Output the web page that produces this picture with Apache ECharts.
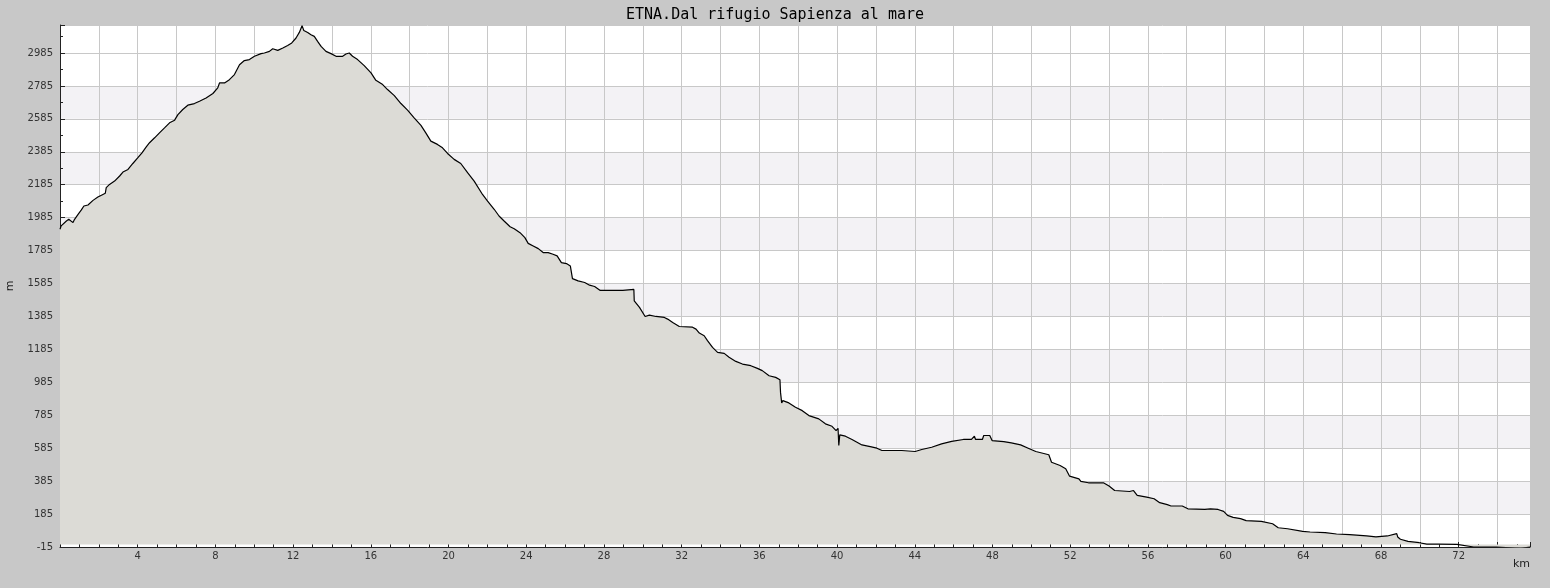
<!DOCTYPE html>
<html>
<head>
<meta charset="utf-8">
<script src="https://cdn.jsdelivr.net/npm/echarts@6/dist/echarts.min.js"></script>
<style>
html,body{margin:0;padding:0;background:#c8c8c8;}
#chart{width:1550px;height:588px;}
</style>
</head>
<body>
<div id="chart"></div>
<script>
const titleText = 'ETNA.Dal rifugio Sapienza al mare';
const xName = 'km';
const yName = 'm';
const yMin = -15, yMax = 3155, yStep = 200;
const xMin = 0, xMax = 75.67, xStep = 2;

const distKm = [0,0.03,0.06,0.33,0.45,0.55,0.67,0.75,0.93,1.10,1.23,1.44,1.70,1.95,2.21,2.33,2.38,2.55,2.81,3.07,3.24,3.50,3.75,4.01,4.22,4.44,4.61,4.87,5.12,5.38,5.64,5.90,6.07,6.32,6.58,6.92,7.18,7.52,7.87,8.12,8.21,8.47,8.72,8.98,9.24,9.49,9.75,10.01,10.35,10.52,10.78,10.95,11.04,11.21,11.47,11.72,11.93,12.15,12.32,12.46,12.55,12.75,12.92,13.09,13.26,13.44,13.69,13.95,14.21,14.55,14.72,14.89,15.06,15.32,15.66,16.01,16.26,16.61,16.86,17.21,17.55,17.89,18.23,18.58,18.83,19.09,19.43,19.69,19.95,20.29,20.63,20.98,21.32,21.75,22.01,22.35,22.60,22.86,23.17,23.38,
23.68,23.93,24.10,24.36,24.62,24.87,25.13,25.38,25.59,25.81,26.07,26.27,26.38,26.67,27.01,27.26,27.52,27.81,28.97,29.06,29.54,29.56,29.66,29.83,30.12,30.34,30.68,31.11,31.28,31.54,31.88,32.56,32.74,32.91,33.16,33.33,33.59,33.85,34.19,34.44,34.79,35.13,35.56,35.90,36.15,36.50,36.84,37.06,37.09,37.15,37.21,37.52,37.86,38.21,38.55,39.06,39.40,39.74,39.95,40.05,40.09,40.14,40.43,40.77,41.28,41.71,42.05,42.31,43.33,44.02,44.36,44.87,45.38,45.90,46.50,46.92,
47.07,47.13,47.48,47.55,47.86,47.98,48.58,48.97,49.45,49.84,50.23,50.90,51.04,51.48,51.77,51.97,52.45,52.55,52.94,53.71,54.00,54.29,55.06,55.26,55.45,55.94,56.32,56.61,57.00,57.19,57.77,58.06,58.93,59.22,59.61,59.90,60.10,60.39,60.77,61.06,61.84,62.42,62.71,63.19,63.97,64.35,65.13,65.71,66.39,67.26,67.74,68.33,68.81,68.86,69.00,69.39,69.97,70.36,70.94,71.91,72.77,73.93,74.00,75.19,75.29,75.67];

const elevM = [1915,1924,1935,1965,1975,1971,1955,1975,2005,2032,2056,2062,2090,2110,2126,2133,2167,2187,2207,2238,2262,2278,2314,2349,2379,2415,2440,2470,2500,2530,2561,2577,2611,2642,2668,2678,2692,2712,2739,2773,2803,2803,2823,2854,2914,2939,2945,2965,2981,2985,2995,3011,3001,3001,3015,3031,3046,3076,3110,3151,3122,3110,3096,3086,3056,3025,2995,2981,2965,2965,2979,2985,2965,2945,2908,2864,2819,2793,2763,2726,2678,2638,2591,2545,2500,2450,2430,2409,2375,2339,2314,2258,2207,2126,2086,2036,1995,1965,1930,1918,
1894,1864,1829,1813,1797,1773,1773,1763,1753,1712,1706,1692,1615,1601,1591,1575,1567,1543,1543,1549,1549,1480,1470,1440,1385,1393,1385,1379,1369,1349,1324,1320,1308,1284,1268,1238,1197,1167,1161,1137,1112,1096,1086,1070,1056,1025,1015,1001,924,860,874,860,834,813,783,763,733,718,692,706,601,666,658,638,605,595,585,571,571,565,577,591,611,626,638,638,
658,638,638,662,662,631,625,617,605,585,565,545,500,480,460,415,399,383,375,375,355,328,322,328,298,288,278,254,242,234,234,217,213,217,213,201,177,165,157,145,141,126,102,96,80,76,72,64,60,52,46,52,66,46,32,19,11,3,3,1,-15,-15,-23,-23,-15,-15];

const profile = distKm.map((d, i) => [d, elevM[i]]);

// alternating band colours, one per band between y ticks (last partial band white)
const bandCount = Math.ceil((yMax - yMin) / yStep);
const bandColors = [];
for (let i = 0; i < bandCount; i++) {
  bandColors.push(i % 2 === 1 && i < bandCount - 1 ? '#f3f2f5' : '#ffffff');
}

const chart = echarts.init(document.getElementById('chart'), null, {renderer: 'canvas'});
chart.setOption({
  animation: false,
  backgroundColor: '#c8c8c8',
  title: {
    text: titleText,
    left: 'center',
    top: 3,
    textStyle: {fontFamily: 'DejaVu Sans Mono', fontSize: 15, fontWeight: 'normal', color: '#000'}
  },
  grid: {
    left: 60, right: 20, top: 25, bottom: 41,
    outerBoundsMode: 'none',
    containLabel: false,
    show: true, backgroundColor: '#ffffff', borderWidth: 0
  },
  xAxis: {
    type: 'value',
    min: xMin, max: xMax, interval: xStep,
    name: xName,
    nameLocation: 'end',
    nameGap: 0,
    nameTextStyle: {fontFamily: 'DejaVu Sans', fontSize: 11, color: '#222', align: 'right', verticalAlign: 'top', padding: [12, 0, 0, 0]},
    axisLine: {show: true, onZero: false, lineStyle: {color: '#222', width: 1}},
    axisTick: {show: true, inside: true, length: 5, lineStyle: {color: '#222'}},
    minorTick: {show: true, splitNumber: 2, length: 3, lineStyle: {color: '#222'}},
    axisLabel: {
      margin: 4,
      fontFamily: 'DejaVu Sans', fontSize: 10, color: '#333',
      showMinLabel: false, showMaxLabel: false,
      formatter: v => (Math.abs(v % 4) < 1e-6 && v > 0 ? String(v) : '')
    },
    splitLine: {show: true, lineStyle: {color: '#c8c8c8', width: 1}}
  },
  yAxis: {
    type: 'value',
    min: yMin, max: yMax, interval: yStep,
    name: yName,
    nameLocation: 'middle',
    nameGap: 44,
    nameRotate: 90,
    nameTextStyle: {fontFamily: 'DejaVu Sans', fontSize: 11, color: '#222'},
    axisLine: {show: true, onZero: false, lineStyle: {color: '#222', width: 1}},
    axisTick: {show: true, inside: true, length: 5, lineStyle: {color: '#222'}},
    minorTick: {show: true, splitNumber: 2, length: 3, lineStyle: {color: '#222'}},
    axisLabel: {
      margin: 7,
      fontFamily: 'DejaVu Sans', fontSize: 10, color: '#333',
      showMaxLabel: false,
      formatter: v => String(v)
    },
    splitLine: {show: true, lineStyle: {color: '#c8c8c8', width: 1}},
    splitArea: {show: true, areaStyle: {color: bandColors}}
  },
  series: [{
    type: 'line',
    data: profile,
    showSymbol: false,
    smooth: false,
    lineStyle: {color: '#000', width: 1.2},
    areaStyle: {color: '#dcdbd6', opacity: 1},
    clip: true
  }]
});
</script>
</body>
</html>
